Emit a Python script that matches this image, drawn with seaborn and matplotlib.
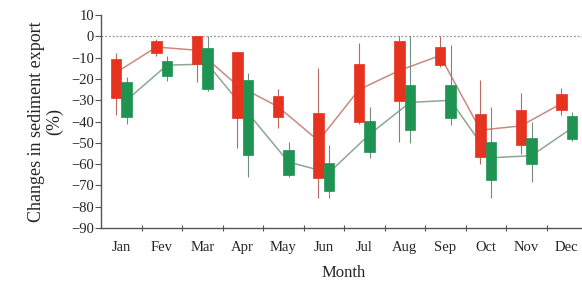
import matplotlib
matplotlib.use('Agg')
import matplotlib.pyplot as plt
import seaborn as sns
import pandas as pd
import numpy as np

# 月份
months = ['Jan', 'Fev', 'Mar', 'Apr', 'May', 'Jun', 'Jul', 'Aug', 'Sep', 'Oct', 'Nov', 'Dec']

# 红色序列（须、箱体、均值）
red_low = [-37, -9, -21.5, -52.5, -43, -76, -41, -49.5, -14.5, -60, -55, -37]
red_q1 = [-29, -8, -13, -38.5, -38, -66.5, -40, -30.5, -13.5, -56.5, -51, -34.5]
red_q3 = [-10.5, -2, 0, -7.5, -28, -36, -13, -2, -5, -36.5, -34.5, -27]
red_high = [-8, -1, 0, -7.5, -24.5, -15, -3, 0, 0, -20.5, -26.5, -24]
red_mean = [-17, -5, -6.5, -23, -33, -49, -25, -16, -9, -44, -42, -31.5]

# 绿色序列
green_low = [-41, -21, -25.5, -66, -66, -76, -57, -50, -41.5, -76, -68.5, -49]
green_q1 = [-38, -18.5, -24.5, -55.5, -65, -72.5, -54.5, -44, -38.5, -67.5, -60, -48]
green_q3 = [-21.5, -11.5, -5.5, -20.5, -53.5, -59.5, -39.5, -23, -23, -49.5, -47.5, -37.5]
green_high = [-19, -9, 0, -17, -49.5, -51, -33, 0, -4, -33, -40, -35.5]
green_mean = [-30, -13.5, -13, -36, -59, -64, -46, -31, -30, -57, -56, -43]

sns.set_style('ticks')
plt.rcParams['font.family'] = ['Liberation Serif', 'DejaVu Serif']

RED = '#e5331f'
GREEN = '#1f9352'

fig = plt.figure(figsize=(5.82, 2.83), dpi=100)
ax = fig.add_axes([101 / 582, 0.194, 486 / 582, 0.7527])

x = np.arange(1, 13)
series = [
    (x - 0.13, red_low, red_q1, red_q3, red_high, red_mean, RED, '#c98a80', '#b76a60'),
    (x + 0.13, green_low, green_q1, green_q3, green_high, green_mean, GREEN, '#8aa892', '#6f8f78'),
]

ax.axhline(0, ls=(0, (1.5, 1.5)), color='#a09090', lw=0.9, zorder=1)

for xs, lo, q1, q3, hi, mean, col, lcol, wcol in series:
    df = pd.DataFrame({'x': xs, 'mean': mean})
    sns.lineplot(data=df, x='x', y='mean', color=lcol, lw=1.1, ax=ax, zorder=2)
    ax.vlines(xs, lo, hi, color=wcol, lw=0.8, zorder=3)
    q1a, q3a = np.array(q1), np.array(q3)
    ax.bar(xs, q3a - q1a, bottom=q1a, width=0.25, color=col, edgecolor=col, lw=0.5, zorder=4)

ax.set_xlim(0.5, 12.5)
ax.set_ylim(-90, 10)
ax.set_yticks(np.arange(-90, 11, 10))
ax.set_yticklabels([str(v).replace('-', '\u2212') for v in range(-90, 11, 10)])
ax.set_xticks(np.arange(1.5, 12.5, 1))
ax.set_xticklabels([])
ax.set_xticks(x, minor=True)
ax.set_xticklabels(months, minor=True)
ax.tick_params(axis='x', which='minor', length=0, pad=9, labelsize=10.5)
ax.tick_params(axis='x', which='major', direction='inout', length=5, width=0.8, color='#555555')
ax.tick_params(axis='y', length=4, width=0.8, color='#555555', labelsize=10.5, pad=1)

sns.despine(ax=ax, top=True, right=True)
for s in ['left', 'bottom']:
    ax.spines[s].set_color('#555555')
    ax.spines[s].set_linewidth(1.0)

ax.set_xlabel('Month', fontsize=12, labelpad=8)
ax.set_ylabel('Changes in sediment export\n(%)', fontsize=13, labelpad=6, linespacing=1.05)
ax.grid(False)

fig.savefig('out.png', dpi=100)
